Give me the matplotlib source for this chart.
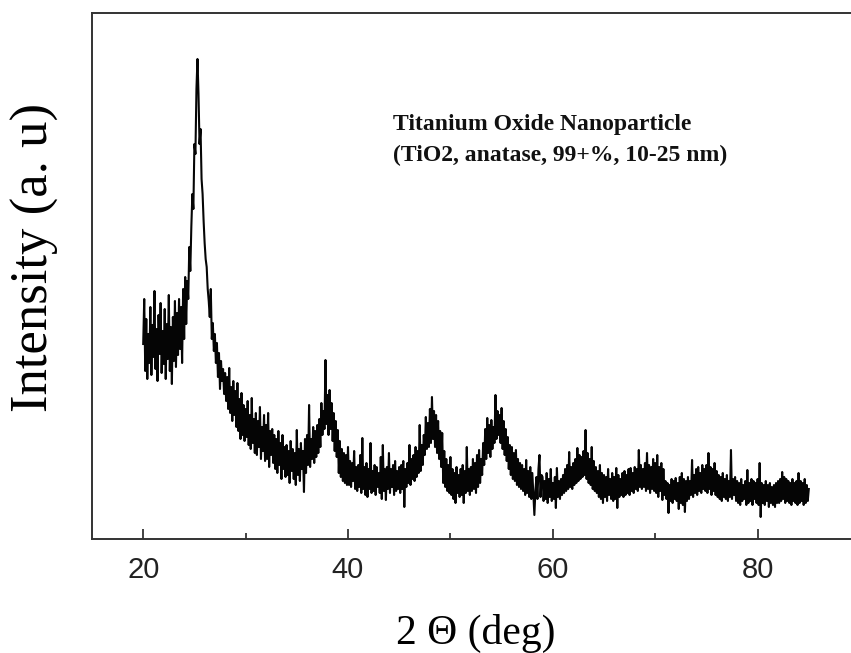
import numpy as np
import matplotlib
matplotlib.use("Agg")
import matplotlib.pyplot as plt

# 2-theta sampling grid (deg), 0.1 deg steps, and intensity (arbitrary units)
two_theta = np.round(np.linspace(20.0, 85.0, 651), 1)

intensity = [
    195, 240, 168, 220, 160, 205, 176, 232, 164, 214,   # 20.x
    182, 248, 170, 210, 158, 224, 185, 236, 166, 208,   # 21.x
    175, 230, 160, 215, 180, 244, 168, 212, 155, 222,   # 22.x
    178, 238, 172, 226, 184, 240, 190, 232, 176, 250,   # 23.x
    200, 262, 215, 258, 240, 292, 268, 312, 345, 330,   # 24.x
    395, 385, 450, 480, 445, 395, 410, 360, 345, 318,   # 25.x
    296, 280, 272, 250, 238, 222, 250, 200, 216, 188,   # 26.x
    205, 176, 196, 162, 186, 150, 178, 158, 170, 145,   # 27.x
    166, 138, 162, 130, 171, 126, 152, 118, 158, 124,   # 28.x
    148, 112, 156, 108, 140, 100, 146, 104, 134, 98,    # 29.x
    130, 102, 138, 94, 124, 90, 141, 96, 120, 86,       # 30.x
    126, 84, 118, 92, 132, 80, 112, 88, 124, 78,        # 31.x
    114, 80, 126, 72, 108, 84, 110, 76, 104, 70,        # 32.x
    100, 66, 108, 74, 96, 60, 104, 70, 92, 62,          # 33.x
    94, 64, 88, 56, 98, 68, 90, 60, 86, 54,             # 34.x
    109, 64, 90, 58, 96, 70, 88, 47, 100, 66,           # 35.x
    104, 74, 134, 72, 100, 80, 112, 76, 108, 82,        # 36.x
    114, 86, 120, 92, 136, 104, 128, 110, 179, 115,     # 37.x
    144, 104, 149, 110, 136, 98, 126, 88, 118, 82,      # 38.x
    109, 66, 98, 62, 90, 58, 86, 56, 84, 54,            # 39.x
    92, 54, 78, 52, 76, 58, 88, 50, 72, 48,             # 40.x
    74, 52, 84, 46, 101, 50, 72, 44, 76, 42,            # 41.x
    70, 50, 96, 46, 68, 48, 74, 44, 72, 52,             # 42.x
    66, 46, 82, 40, 94, 48, 70, 39, 72, 50,             # 43.x
    86, 46, 70, 52, 74, 44, 78, 48, 68, 50,             # 44.x
    72, 46, 74, 50, 78, 32, 70, 52, 76, 56,             # 45.x
    94, 54, 80, 60, 84, 58, 92, 62, 88, 66,             # 46.x
    114, 68, 94, 74, 104, 84, 122, 90, 116, 92,         # 47.x
    130, 96, 142, 100, 128, 92, 124, 86, 118, 80,       # 48.x
    108, 72, 106, 56, 88, 52, 80, 48, 74, 46,           # 49.x
    82, 44, 70, 40, 66, 36, 72, 46, 64, 42,             # 50.x
    70, 44, 74, 36, 68, 46, 92, 48, 70, 44,             # 51.x
    72, 48, 80, 50, 76, 46, 84, 52, 89, 56,             # 52.x
    80, 64, 96, 74, 110, 80, 121, 86, 114, 82,          # 53.x
    119, 90, 112, 96, 144, 100, 128, 104, 124, 96,      # 54.x
    131, 90, 118, 84, 110, 78, 102, 70, 94, 64,         # 55.x
    92, 60, 86, 58, 89, 54, 80, 52, 76, 50,             # 56.x
    74, 48, 70, 44, 79, 46, 68, 42, 72, 40,             # 57.x
    66, 44, 24, 48, 62, 40, 70, 84, 42, 64,             # 58.x
    62, 38, 58, 40, 66, 36, 60, 42, 70, 38,             # 59.x
    56, 40, 62, 31, 71, 42, 58, 40, 60, 44,             # 60.x
    64, 46, 70, 48, 74, 50, 87, 52, 72, 50,             # 61.x
    76, 54, 80, 56, 91, 58, 84, 60, 82, 62,             # 62.x
    88, 64, 109, 60, 86, 56, 80, 54, 92, 50,            # 63.x
    78, 48, 72, 46, 68, 42, 74, 40, 66, 36,             # 64.x
    64, 42, 62, 38, 70, 44, 60, 40, 66, 38,             # 65.x
    62, 40, 71, 31, 64, 42, 60, 44, 66, 42,             # 66.x
    68, 44, 64, 46, 70, 44, 71, 48, 66, 46,             # 67.x
    72, 50, 70, 48, 89, 52, 74, 50, 70, 52,             # 68.x
    76, 48, 86, 50, 74, 46, 72, 50, 80, 48,             # 69.x
    76, 46, 84, 42, 72, 48, 76, 39, 70, 44,             # 70.x
    58, 40, 56, 26, 54, 38, 60, 36, 58, 40,             # 71.x
    61, 38, 56, 30, 62, 36, 66, 34, 60, 27,             # 72.x
    58, 38, 62, 40, 58, 44, 79, 42, 64, 46,             # 73.x
    70, 44, 72, 48, 66, 46, 74, 50, 70, 48,             # 74.x
    74, 46, 86, 50, 72, 44, 70, 48, 76, 44,             # 75.x
    68, 42, 64, 40, 62, 38, 66, 42, 60, 40,             # 76.x
    64, 38, 58, 42, 89, 40, 60, 44, 62, 38,             # 77.x
    58, 36, 56, 34, 60, 38, 54, 40, 58, 34,             # 78.x
    69, 36, 56, 38, 60, 34, 58, 40, 56, 36,             # 79.x
    60, 34, 76, 22, 56, 36, 54, 34, 58, 38,             # 80.x
    54, 32, 56, 36, 52, 34, 54, 32, 56, 36,             # 81.x
    58, 36, 60, 38, 67, 40, 62, 36, 60, 38,             # 82.x
    58, 36, 56, 34, 60, 38, 56, 36, 58, 34,             # 83.x
    66, 36, 58, 38, 56, 34, 60, 36, 54, 38,             # 84.x
    50,                                                 # 85.0
]

xticks_major = [20, 40, 60, 80]
xticks_minor = [30, 50, 70]
title_lines = "Titanium Oxide Nanoparticle\n(TiO2, anatase, 99+%, 10-25 nm)"
xlabel = "2 \u0398 (deg)"
ylabel = "Intensity (a. u)"

fig = plt.figure(figsize=(8.51, 6.53), dpi=100)
L, R, T, B = 92 / 851, 860 / 851, 1 - 12.5 / 653, 1 - 539 / 653
ax = fig.add_axes([L, B, R - L, T - B])

ax.plot(two_theta, intensity, color="#050505", linewidth=1.5)

ax.set_xlim(15, 90)
ax.set_ylim(0, 526.5)
ax.set_xticks(xticks_major)
ax.set_xticks(xticks_minor, minor=True)
ax.set_yticks([])
ax.tick_params(axis="x", which="major", direction="in", length=7, width=1.2,
               pad=12, labelsize=21, colors="#222222")
ax.tick_params(axis="x", which="minor", direction="in", length=4, width=1.2,
               colors="#222222")
for lab in ax.get_xticklabels():
    lab.set_fontfamily("Liberation Sans")

for s in ax.spines.values():
    s.set_linewidth(1.4)
    s.set_color("#333333")

ax.set_xlabel(xlabel, fontsize=30, family="Liberation Serif", labelpad=22)
ax.set_ylabel(ylabel, fontsize=38, family="Liberation Serif")
ax.yaxis.set_label_coords(-0.074, 0.534)
ax.yaxis.label.set_va("center")

ax.text((393 - 92) / 768, (539 - 114) / 526.5, title_lines, transform=ax.transAxes,
        ha="left", va="top", fontsize=17, family="Liberation Serif",
        fontweight="bold", linespacing=1.6, color="#111111")

fig.savefig("out.png", dpi=100)
